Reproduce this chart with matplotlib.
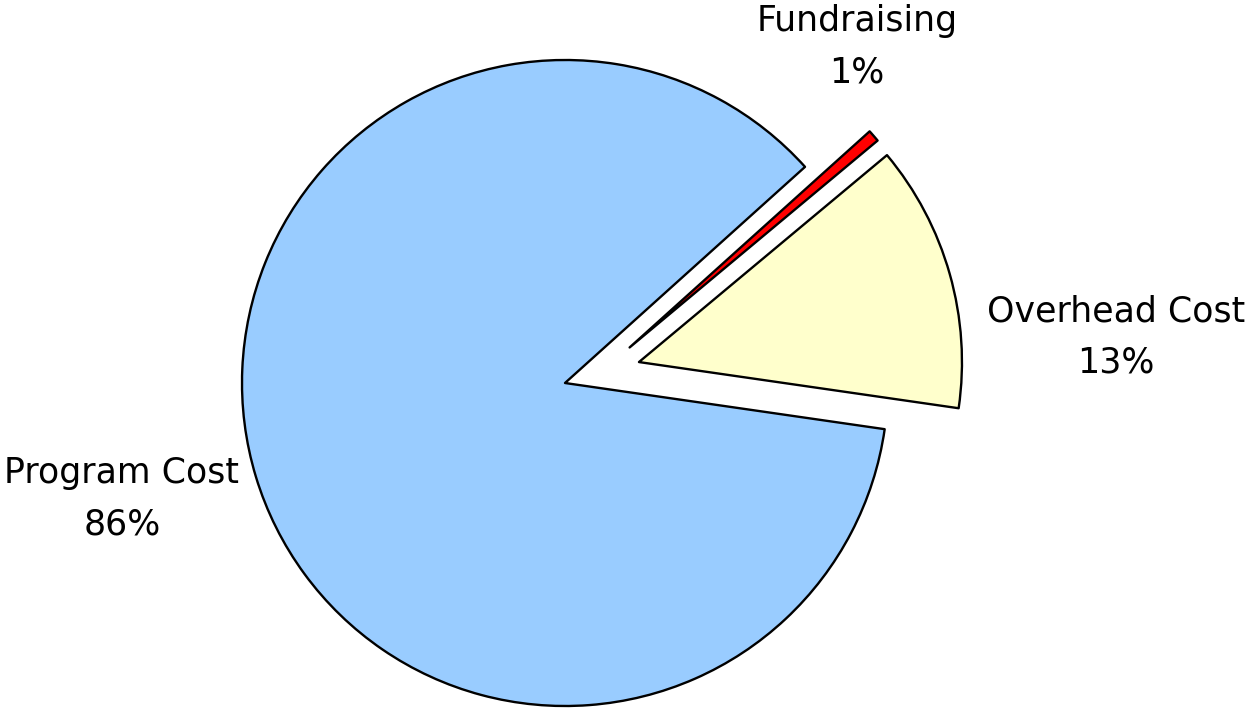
import matplotlib
matplotlib.use("Agg")
import matplotlib.pyplot as plt

categories = ["Program Cost", "Overhead Cost", "Fundraising"]
values = [86.05, 13.35, 0.6]
pct_labels = ["86%", "13%", "1%"]
colors = ["#99CCFF", "#FFFFCC", "#FF0000"]

W, H = 1247, 708
fig = plt.figure(figsize=(W / 100, H / 100), dpi=100)
ax = fig.add_axes([0, 0, 1, 1])

cx, cy, R = 565, 383, 323
wedges, _ = ax.pie(values, colors=colors, startangle=42.0, counterclock=True,
                   explode=[0, 0.238, 0.0],
                   wedgeprops=dict(edgecolor="black", linewidth=1.7, joinstyle="round"))
# Fundraising sliver is displaced (not purely radially) in the reference
wedges[2].set_center((0.20, 0.11))

ax.set_aspect("auto")
ax.set_xlim((0 - cx) / R, (W - cx) / R)
ax.set_ylim((cy - H) / R, cy / R)
ax.axis("off")

label_pos = {"Program Cost": (122, 499), "Overhead Cost": (1116, 337), "Fundraising": (857, 47)}
for cat, pct in zip(categories, pct_labels):
    px, py = label_pos[cat]
    fig.text(px / W, 1 - py / H, f"{cat}\n{pct}", ha="center", va="center",
             multialignment="center", fontsize=25, family="DejaVu Sans", linespacing=1.65)

fig.savefig("out.png", dpi=100)
